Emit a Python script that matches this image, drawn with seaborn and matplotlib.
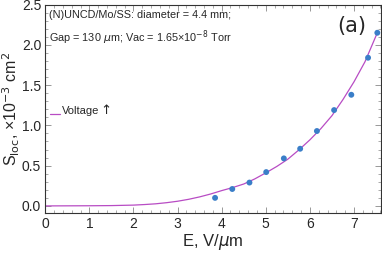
import numpy as np
import pandas as pd
import matplotlib
matplotlib.use("Agg")
import matplotlib.pyplot as plt
from matplotlib.ticker import MultipleLocator
import seaborn as sns

# puntos medidos (E en V/um, S_loc en 1e-3 cm^2)
campo_e = [3.85, 4.24, 4.63, 5.01, 5.41, 5.78, 6.16, 6.55, 6.94, 7.32, 7.53]
s_loc = [0.10, 0.21, 0.29, 0.42, 0.59, 0.71, 0.93, 1.19, 1.38, 1.84, 2.15]

# curva de ajuste
curva_e = [0.0, 0.5, 1.0, 1.5, 2.0, 2.25, 2.5, 2.75, 3.0, 3.25, 3.5, 3.75, 4.0, 4.25,
           4.5, 4.75, 5.0, 5.25, 5.5, 5.75, 6.0, 6.25, 6.5, 6.75, 7.0, 7.25, 7.53]
curva_s = [0.0, 0.001, 0.002, 0.004, 0.010, 0.017, 0.026, 0.040, 0.058, 0.082, 0.112,
           0.148, 0.190, 0.228, 0.272, 0.335, 0.410, 0.490, 0.580, 0.695, 0.820,
           0.960, 1.120, 1.320, 1.540, 1.790, 2.150]

df_puntos = pd.DataFrame({"E": campo_e, "S": s_loc})
df_curva = pd.DataFrame({"E": curva_e, "S": curva_s})

sns.set_theme(style="ticks")
plt.rcParams["font.family"] = ["Liberation Sans", "DejaVu Sans"]

fig = plt.figure(figsize=(3.82, 2.54), dpi=100)
ax = fig.add_axes([0.1186, 0.163, 0.997 - 0.1186, 0.982 - 0.163])

sns.lineplot(data=df_curva, x="E", y="S", ax=ax, color="#b84cc4", linewidth=0.9)
sns.scatterplot(data=df_puntos, x="E", y="S", ax=ax, color="#3a7ec8", s=18,
                edgecolor="none", zorder=3)

ax.set_xlim(0, 7.61)
ax.set_ylim(-0.083, 2.5)
ax.xaxis.set_major_locator(MultipleLocator(1))
ax.xaxis.set_minor_locator(MultipleLocator(0.2))
ax.yaxis.set_major_locator(MultipleLocator(0.5))
ax.yaxis.set_minor_locator(MultipleLocator(0.1))
ax.yaxis.set_major_formatter(matplotlib.ticker.FormatStrFormatter("%.1f"))

ax.tick_params(which="both", direction="in", top=True, right=True,
               color="#888888", labelsize=10, pad=3)
ax.tick_params(which="major", length=4, width=0.6)
ax.tick_params(which="minor", length=2, width=0.5)
for lado in ax.spines.values():
    lado.set_linewidth(0.8)
    lado.set_color("#333333")

ax.set_xlabel("E, V/$\\mu$m", fontsize=12, labelpad=1)
ax.set_ylabel("S$_{\\rm loc}$, ×10$^{-3}$ cm$^2$", fontsize=11.5, labelpad=0)

ax.text(0.01, 0.975, "(N)UNCD/Mo/SS: diameter = 4.4 mm;", transform=ax.transAxes,
        fontsize=7.8, va="top", ha="left")
ax.text(0.01, 0.885, "Gap = 130 $\\mu$m; Vac = 1.65×10$^{-8}$ Torr", transform=ax.transAxes,
        fontsize=7.8, va="top", ha="left")
ax.text(0.955, 0.895, "(a)", transform=ax.transAxes, fontsize=15, ha="right",
        va="center", family=["DejaVu Sans"])

# leyenda manual
ax.plot([0.013, 0.045], [0.475, 0.475], transform=ax.transAxes, color="#b84cc4",
        linewidth=0.9)
ax.text(0.05, 0.49, "Voltage", transform=ax.transAxes, fontsize=8,
        va="center", ha="left")
ax.text(0.163, 0.49, "↑", transform=ax.transAxes, fontsize=9.5,
        va="center", ha="left", family=["DejaVu Sans"])

plt.savefig("out.png", dpi=100)
plt.close()
